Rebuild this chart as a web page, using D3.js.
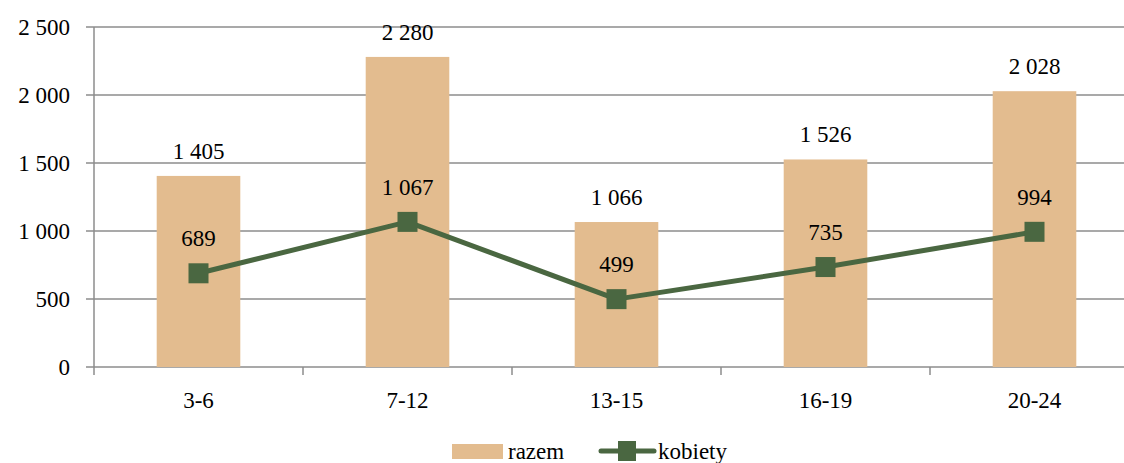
<!DOCTYPE html>
<meta charset="utf-8">
<style>
    body { margin: 0; background: #fff; }
</style>
<body>
<script src="https://d3js.org/d3.v7.min.js"></script>
<script>

    var categories = ["3-6", "7-12", "13-15", "16-19", "20-24"];
    var razem = [1405, 2280, 1066, 1526, 2028];
    var kobiety = [689, 1067, 499, 735, 994];
    var yTicks = [0, 500, 1000, 1500, 2000, 2500];

    var width = 1124, height = 463;
    var margin = {top: 27, left: 94, bottom: 96};
    var plotRight = 1139;

    var locale = d3.formatLocale({decimal: ",", thousands: "\u00a0", grouping: [3], currency: ["", ""]});
    var fmt = locale.format(",d");

    var svg = d3.select("body").append("svg")
        .attr("width", width)
        .attr("height", height)
        .attr("font-family", "Liberation Serif, DejaVu Serif, serif")
        .attr("font-size", 23);

    var x = d3.scaleBand()
        .domain(categories)
        .range([margin.left, plotRight])
        .paddingInner(0.6)
        .paddingOuter(0.3);

    var xb = d3.scaleBand().domain(categories).range([margin.left, plotRight]);

    var y = d3.scaleLinear()
        .domain([0, 2500])
        .range([height - margin.bottom, margin.top]);

    // gridlines
    svg.append("g")
        .selectAll("line")
        .data(yTicks)
        .enter().append("line")
        .attr("x1", margin.left - 8)
        .attr("x2", plotRight)
        .attr("y1", function(d) { return y(d); })
        .attr("y2", function(d) { return y(d); })
        .style("stroke", "#8c8c8c")
        .style("stroke-width", 1.5);

    // y axis line
    svg.append("line")
        .attr("x1", margin.left).attr("x2", margin.left)
        .attr("y1", y(2500)).attr("y2", y(0) + 8)
        .style("stroke", "#8c8c8c")
        .style("stroke-width", 1.5);

    // x ticks at category boundaries
    svg.append("g")
        .selectAll("line")
        .data(categories.slice(1))
        .enter().append("line")
        .attr("x1", function(d) { return xb(d); })
        .attr("x2", function(d) { return xb(d); })
        .attr("y1", y(0))
        .attr("y2", y(0) + 8)
        .style("stroke", "#8c8c8c")
        .style("stroke-width", 1.5);

    svg.append("g")
        .selectAll("text")
        .data(yTicks)
        .enter().append("text")
        .attr("x", margin.left - 24)
        .attr("y", function(d) { return y(d); })
        .attr("dy", "0.35em")
        .attr("text-anchor", "end")
        .text(function(d) { return fmt(d); });

    svg.append("g")
        .selectAll("text")
        .data(categories)
        .enter().append("text")
        .attr("x", function(d) { return xb(d) + xb.bandwidth() / 2; })
        .attr("y", y(0) + 41)
        .attr("text-anchor", "middle")
        .text(function(d) { return d; });

    // bars
    svg.append("g")
        .selectAll("rect")
        .data(razem)
        .enter().append("rect")
        .attr("x", function(d, i) { return x(categories[i]); })
        .attr("width", x.bandwidth())
        .attr("y", function(d) { return y(d); })
        .attr("height", function(d) { return y(0) - y(d); })
        .style("fill", "#e3bc8f");

    svg.append("g")
        .selectAll("text")
        .data(razem)
        .enter().append("text")
        .attr("x", function(d, i) { return x(categories[i]) + x.bandwidth() / 2; })
        .attr("y", function(d) { return y(d) - 17; })
        .attr("text-anchor", "middle")
        .text(function(d) { return fmt(d); });

    // line
    var cx = function(d, i) { return xb(categories[i]) + xb.bandwidth() / 2; };
    var line = d3.line()
        .x(cx)
        .y(function(d) { return y(d); });

    svg.append("path")
        .datum(kobiety)
        .attr("d", line)
        .style("fill", "none")
        .style("stroke", "#4a6741")
        .style("stroke-width", 5)
        .style("stroke-linejoin", "round");

    svg.append("g")
        .selectAll("rect")
        .data(kobiety)
        .enter().append("rect")
        .attr("x", function(d, i) { return cx(d, i) - 10; })
        .attr("y", function(d) { return y(d) - 10; })
        .attr("width", 20)
        .attr("height", 20)
        .style("fill", "#4a6741");

    svg.append("g")
        .selectAll("text")
        .data(kobiety)
        .enter().append("text")
        .attr("x", cx)
        .attr("y", function(d) { return y(d) - 27; })
        .attr("text-anchor", "middle")
        .text(function(d) { return fmt(d); });

    // legend
    var legend = svg.append("g");
    legend.append("rect")
        .attr("x", 452).attr("y", 444)
        .attr("width", 51).attr("height", 15)
        .style("fill", "#e3bc8f");
    legend.append("text")
        .attr("x", 508).attr("y", 459)
        .text("razem");
    legend.append("line")
        .attr("x1", 601).attr("x2", 654)
        .attr("y1", 451).attr("y2", 451)
        .style("stroke", "#4a6741")
        .style("stroke-width", 5)
        .style("stroke-linecap", "round");
    legend.append("rect")
        .attr("x", 618).attr("y", 441)
        .attr("width", 18).attr("height", 20)
        .style("fill", "#4a6741");
    legend.append("text")
        .attr("x", 658).attr("y", 459)
        .text("kobiety");

</script>
</body>
